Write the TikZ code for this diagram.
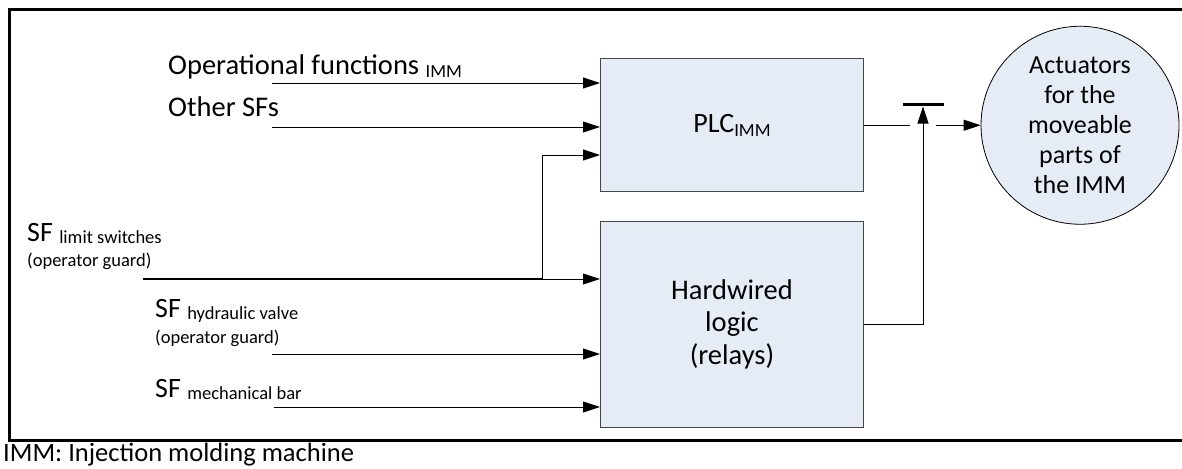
\documentclass[tikz,border=0pt]{standalone}
\usepackage{fontspec}
\setmainfont{Carlito}
\usetikzlibrary{arrows.meta}
\definecolor{boxfill}{RGB}{230,236,246}
\definecolor{boxline}{RGB}{70,70,70}
\newcommand\subtxt[2][2.5pt]{\raisebox{-#1}{\fontsize{18.5}{21}\selectfont #2}}
\begin{document}
\begin{tikzpicture}[x=1pt,y=-1pt,
  blk/.style={draw=boxline, fill=boxfill, line width=1pt, minimum width=263pt,
    inner sep=0pt, align=center, font=\fontsize{28.5}{32.5}\selectfont},
  lbl/.style={anchor=base west, inner sep=0pt, font=\fontsize{28}{30}\selectfont},
  toplbl/.style={lbl, font=\fontsize{28.5}{30}\selectfont},
  note/.style={anchor=base west, inner sep=0pt, font=\fontsize{18.5}{21}\selectfont},
  wire/.style={line width=0.9pt},
  sig/.style={line width=0.9pt, -{Triangle[length=17pt,width=11pt]}}]
\useasboundingbox (0,0) rectangle (1182,468);

% outer frame (right side runs off the page)
\draw[line width=2.5pt] (1195,9.5) -- (9.5,9.5) -- (9.5,440.5) -- (1195,440.5);

% processing blocks
\node[blk, minimum height=132.5pt, font=\fontsize{28}{30}\selectfont] (plc) at (732,125.25)
  {PLC\subtxt[4pt]{IMM}};
\node[blk, minimum height=206.5pt] (hw) at (732,324.25) {Hardwired\\logic\\(relays)};
\node[circle, draw, line width=0.8pt, fill=boxfill, minimum size=198pt, inner sep=0pt,
  align=center, font=\fontsize{26}{30}\selectfont] (act) at (1080,125.25)
  {Actuators\\for the\\moveable\\parts of\\the IMM};

% input labels
\node[toplbl] (topfn) at (168,75) {Operational functions \subtxt{IMM}};
\node[toplbl] (othsf) at (168,117) {Other SFs};
\node[lbl] (sfls) at (27,241) {SF \subtxt{limit switches}};
\node[note] (ogA) at (27,266) {(operator guard)};
\node[lbl] (sfhv) at (155,317) {SF \subtxt{hydraulic valve}};
\node[note] (ogB) at (155,343) {(operator guard)};
\node[lbl] (sfmb) at (155,397) {SF \subtxt{mechanical bar}};
\node[lbl, font=\fontsize{26.5}{29}\selectfont] (cap) at (3,461) {IMM: Injection molding machine};

% input wires
\coordinate (inA) at (272,83);
\coordinate (inB) at (272,127);
\coordinate (inC) at (143,279);
\coordinate (split) at (542,279);
\coordinate (upC) at (542,155);
\coordinate (inD) at (272,354);
\coordinate (inE) at (274,407);
\draw[sig] (inA) -- (inA -| plc.west);
\draw[sig] (inB) -- (inB -| plc.west);
\draw[line width=2pt] (inC) -- (split);
\draw[sig] (split) -- (split -| hw.west);
\draw[sig] (split) -- (upC) -- (upC -| plc.west);
\draw[sig] (inD) -- (inD -| hw.west);
\draw[sig] (inE) -- (inE -| hw.west);

% output path with the relay contact
\coordinate (gapL) at (910,125.25);
\coordinate (gapR) at (936,125.25);
\coordinate (barL) at (903,105);
\coordinate (barR) at (944,105);
\coordinate (bar) at (923,106.5);
\draw[wire] (plc.east) -- (gapL);
\draw[sig] (gapR) -- (act.west);
\draw[line width=3pt] (barL) -- (barR);
\draw[sig] (hw.east) -| (bar);
\end{tikzpicture}
\end{document}
